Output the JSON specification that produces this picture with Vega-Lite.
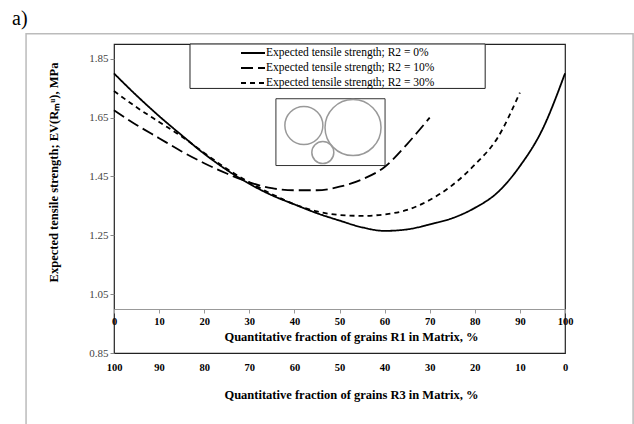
{
  "$schema": "https://vega.github.io/schema/vega-lite/v6.json",
  "width": 451,
  "height": 309,
  "autosize": {"type": "none"},
  "padding": {"left": 114, "top": 44, "right": 69, "bottom": 71},
  "background": "white",
  "config": {
    "view": {"stroke": "#222", "strokeWidth": 1.2},
    "font": "Liberation Serif"
  },
  "title": {"text": "a)", "anchor": "start", "frame": "group", "fontSize": 20, "font": "Liberation Serif", "fontWeight": "normal", "color": "black", "dx": -102, "offset": 4},
  "datasets": {
    "curves": [
      {"series": "Expected tensile strength; R2 = 0%", "r1": 0, "ev": 1.80},
      {"series": "Expected tensile strength; R2 = 0%", "r1": 5, "ev": 1.725},
      {"series": "Expected tensile strength; R2 = 0%", "r1": 10, "ev": 1.655},
      {"series": "Expected tensile strength; R2 = 0%", "r1": 15, "ev": 1.59},
      {"series": "Expected tensile strength; R2 = 0%", "r1": 20, "ev": 1.527},
      {"series": "Expected tensile strength; R2 = 0%", "r1": 25, "ev": 1.472},
      {"series": "Expected tensile strength; R2 = 0%", "r1": 30, "ev": 1.425},
      {"series": "Expected tensile strength; R2 = 0%", "r1": 35, "ev": 1.386},
      {"series": "Expected tensile strength; R2 = 0%", "r1": 40, "ev": 1.355},
      {"series": "Expected tensile strength; R2 = 0%", "r1": 45, "ev": 1.325},
      {"series": "Expected tensile strength; R2 = 0%", "r1": 50, "ev": 1.30},
      {"series": "Expected tensile strength; R2 = 0%", "r1": 55, "ev": 1.277},
      {"series": "Expected tensile strength; R2 = 0%", "r1": 60, "ev": 1.265},
      {"series": "Expected tensile strength; R2 = 0%", "r1": 65, "ev": 1.27},
      {"series": "Expected tensile strength; R2 = 0%", "r1": 70, "ev": 1.287},
      {"series": "Expected tensile strength; R2 = 0%", "r1": 75, "ev": 1.308},
      {"series": "Expected tensile strength; R2 = 0%", "r1": 80, "ev": 1.343},
      {"series": "Expected tensile strength; R2 = 0%", "r1": 85, "ev": 1.395},
      {"series": "Expected tensile strength; R2 = 0%", "r1": 90, "ev": 1.485},
      {"series": "Expected tensile strength; R2 = 0%", "r1": 95, "ev": 1.61},
      {"series": "Expected tensile strength; R2 = 0%", "r1": 100, "ev": 1.80},
      {"series": "Expected tensile strength; R2 = 10%", "r1": 0, "ev": 1.675},
      {"series": "Expected tensile strength; R2 = 10%", "r1": 5, "ev": 1.625},
      {"series": "Expected tensile strength; R2 = 10%", "r1": 10, "ev": 1.58},
      {"series": "Expected tensile strength; R2 = 10%", "r1": 15, "ev": 1.535},
      {"series": "Expected tensile strength; R2 = 10%", "r1": 20, "ev": 1.495},
      {"series": "Expected tensile strength; R2 = 10%", "r1": 25, "ev": 1.46},
      {"series": "Expected tensile strength; R2 = 10%", "r1": 30, "ev": 1.43},
      {"series": "Expected tensile strength; R2 = 10%", "r1": 35, "ev": 1.41},
      {"series": "Expected tensile strength; R2 = 10%", "r1": 40, "ev": 1.403},
      {"series": "Expected tensile strength; R2 = 10%", "r1": 45, "ev": 1.403},
      {"series": "Expected tensile strength; R2 = 10%", "r1": 50, "ev": 1.415},
      {"series": "Expected tensile strength; R2 = 10%", "r1": 55, "ev": 1.44},
      {"series": "Expected tensile strength; R2 = 10%", "r1": 60, "ev": 1.482},
      {"series": "Expected tensile strength; R2 = 10%", "r1": 65, "ev": 1.56},
      {"series": "Expected tensile strength; R2 = 10%", "r1": 70, "ev": 1.65},
      {"series": "Expected tensile strength; R2 = 30%", "r1": 0, "ev": 1.74},
      {"series": "Expected tensile strength; R2 = 30%", "r1": 5, "ev": 1.685},
      {"series": "Expected tensile strength; R2 = 30%", "r1": 10, "ev": 1.635},
      {"series": "Expected tensile strength; R2 = 30%", "r1": 15, "ev": 1.586},
      {"series": "Expected tensile strength; R2 = 30%", "r1": 20, "ev": 1.53},
      {"series": "Expected tensile strength; R2 = 30%", "r1": 25, "ev": 1.476},
      {"series": "Expected tensile strength; R2 = 30%", "r1": 30, "ev": 1.43},
      {"series": "Expected tensile strength; R2 = 30%", "r1": 35, "ev": 1.39},
      {"series": "Expected tensile strength; R2 = 30%", "r1": 40, "ev": 1.355},
      {"series": "Expected tensile strength; R2 = 30%", "r1": 45, "ev": 1.331},
      {"series": "Expected tensile strength; R2 = 30%", "r1": 50, "ev": 1.319},
      {"series": "Expected tensile strength; R2 = 30%", "r1": 55, "ev": 1.316},
      {"series": "Expected tensile strength; R2 = 30%", "r1": 60, "ev": 1.321},
      {"series": "Expected tensile strength; R2 = 30%", "r1": 65, "ev": 1.336},
      {"series": "Expected tensile strength; R2 = 30%", "r1": 70, "ev": 1.37},
      {"series": "Expected tensile strength; R2 = 30%", "r1": 75, "ev": 1.42},
      {"series": "Expected tensile strength; R2 = 30%", "r1": 80, "ev": 1.49},
      {"series": "Expected tensile strength; R2 = 30%", "r1": 85, "ev": 1.58},
      {"series": "Expected tensile strength; R2 = 30%", "r1": 90, "ev": 1.735}
    ],
    "inset": [
      {"grain": "left", "cx": 42.1, "cy": 1.623},
      {"grain": "right", "cx": 53.0, "cy": 1.616},
      {"grain": "bottom", "cx": 46.3, "cy": 1.531}
    ],
    "one": [{}]
  },
  "resolve": {"axis": {"x": "independent", "y": "independent"}},
  "layer": [
    {
      "data": {"name": "one"},
      "mark": {"type": "rect", "fillOpacity": 0, "stroke": "#bbbbbb", "strokeWidth": 1.5, "clip": false},
      "encoding": {
        "x": {"datum": -19.5, "type": "quantitative", "scale": {"domain": [0, 100], "nice": false, "zero": false}, "axis": null},
        "x2": {"datum": 115.1},
        "y": {"datum": 1.935, "type": "quantitative", "scale": {"domain": [0.85, 1.9], "nice": false, "zero": false}, "axis": null},
        "y2": {"datum": 0.5}
      }
    },
    {
      "data": {"name": "one"},
      "mark": {"type": "rect", "fill": "white", "stroke": "#222222", "strokeWidth": 1},
      "encoding": {
        "x": {"datum": 16.85, "type": "quantitative", "axis": null},
        "x2": {"datum": 82.3},
        "y": {"datum": 1.9, "type": "quantitative", "axis": null},
        "y2": {"datum": 1.749}
      }
    },
    {
      "data": {"name": "curves"},
      "mark": {"type": "line", "color": "black", "strokeWidth": 1.8, "interpolate": "monotone"},
      "encoding": {
        "x": {
          "field": "r1", "type": "quantitative",
          "scale": {"domain": [0, 100], "nice": false, "zero": false},
          "axis": {
            "orient": "bottom", "offset": -44, "values": [0, 10, 20, 30, 40, 50, 60, 70, 80, 90, 100],
            "grid": false, "domainColor": "#999999", "domainWidth": 1.2, "tickColor": "#999999", "tickSize": 4,
            "labelFont": "Liberation Serif", "labelFontWeight": "bold", "labelFontSize": 10.5, "labelColor": "black", "labelPadding": 3, "labelFlush": false,
            "title": "Quantitative fraction of grains R1 in Matrix, %", "titleFont": "Liberation Serif", "titleFontSize": 12.5, "titleFontWeight": "bold", "titleColor": "black", "titlePadding": 4, "titleX": 237
          }
        },
        "y": {
          "field": "ev", "type": "quantitative",
          "scale": {"domain": [0.85, 1.9], "nice": false, "zero": false},
          "axis": {
            "values": [0.85, 1.05, 1.25, 1.45, 1.65, 1.85], "format": ".2f", "grid": false, "domain": false,
            "tickColor": "#888888", "tickSize": 4, "labelFont": "Liberation Serif", "labelFontSize": 11, "labelColor": "#444444", "labelPadding": 2,
            "title": "Expected tensile strength; EV(Rₘᵘ), MPa", "titleFont": "Liberation Serif", "titleFontSize": 12.5, "titleFontWeight": "bold", "titleColor": "black", "titleY": 128, "titlePadding": 28
          }
        },
        "strokeDash": {
          "field": "series", "type": "nominal",
          "scale": {"domain": ["Expected tensile strength; R2 = 0%", "Expected tensile strength; R2 = 10%", "Expected tensile strength; R2 = 30%"], "range": [[1, 0], [12, 5], [5, 4]]},
          "legend": {
            "orient": "none", "legendX": 76, "legendY": 0, "title": null,
            "padding": 0,
            "symbolType": "M-1.5,0H1.5", "symbolSize": 256, "symbolStrokeWidth": 1.8, "symbolStrokeColor": "black", "symbolOffset": 54,
            "labelFont": "Liberation Serif", "labelFontSize": 11.5, "labelColor": "black", "labelOffset": 4, "rowPadding": -1.5, "labelLimit": 500
          }
        }
      }
    },
    {
      "data": {"name": "one"},
      "mark": {"type": "rect", "fill": "white", "stroke": "#333333", "strokeWidth": 1},
      "encoding": {
        "x": {"datum": 35.9, "type": "quantitative", "axis": {
            "orient": "bottom", "offset": 0, "values": [0, 10, 20, 30, 40, 50, 60, 70, 80, 90, 100], "labelExpr": "100 - datum.value",
            "grid": false, "domain": false, "ticks": false,
            "labelFont": "Liberation Serif", "labelFontWeight": "bold", "labelFontSize": 10.5, "labelColor": "black", "labelPadding": 9, "labelFlush": false,
            "title": "Quantitative fraction of grains R3 in Matrix, %", "titleFont": "Liberation Serif", "titleFontSize": 12.5, "titleFontWeight": "bold", "titleColor": "black", "titlePadding": 16, "titleX": 237
          }},
        "x2": {"datum": 60.1},
        "y": {"datum": 1.714, "type": "quantitative", "axis": null},
        "y2": {"datum": 1.487}
      }
    },
    {
      "data": {"name": "inset"},
      "mark": {"type": "point", "shape": "circle", "filled": false, "stroke": "#999999", "strokeWidth": 1.5, "opacity": 1},
      "encoding": {
        "x": {"field": "cx", "type": "quantitative", "axis": null},
        "y": {"field": "cy", "type": "quantitative", "axis": null},
        "size": {"field": "grain", "type": "nominal", "scale": {"type": "ordinal", "domain": ["left", "right", "bottom"], "range": [1444, 3136, 484]}, "legend": null}
      }
    }
  ]
}
